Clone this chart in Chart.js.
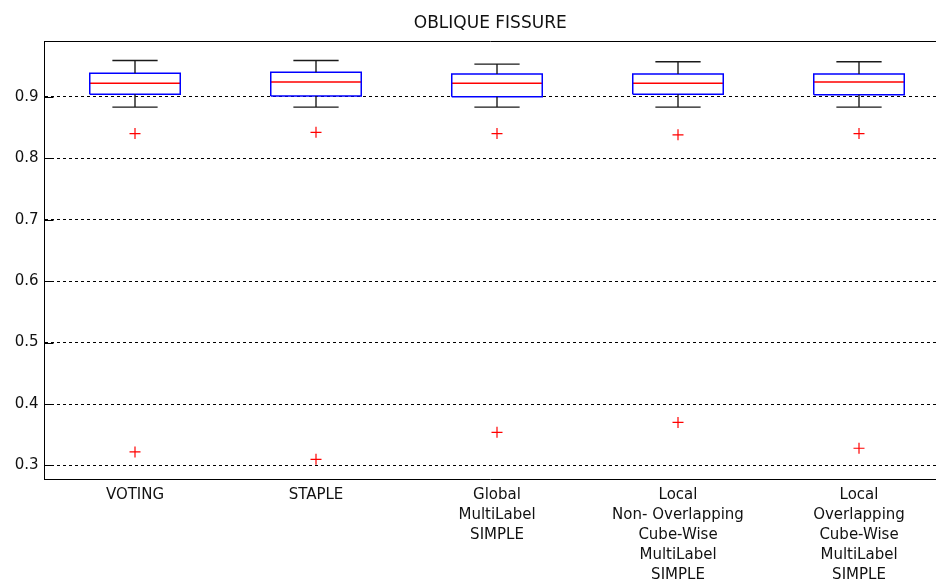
<!DOCTYPE html>
<html>
<head>
<meta charset="utf-8">
<script src="https://cdn.jsdelivr.net/npm/chart.js@4.4.1/dist/chart.umd.min.js"></script>
<style>
  html, body { margin: 0; padding: 0; background: #fff; }
  #wrap { width: 936px; height: 583px; }
</style>
</head>
<body>
<div id="wrap"><canvas id="c" width="936" height="583"></canvas></div>
<script>
// Segmentation methods compared (one box per method)
const categories = [
  ['VOTING'],
  ['STAPLE'],
  ['Global', 'MultiLabel', 'SIMPLE'],
  ['Local', 'Non- Overlapping', 'Cube-Wise', 'MultiLabel', 'SIMPLE'],
  ['Local', 'Overlapping', 'Cube-Wise', 'MultiLabel', 'SIMPLE']
];

// Box statistics per method
const whiskerLow  = [0.883, 0.883, 0.883, 0.883, 0.883];
const quartile1   = [0.904, 0.901, 0.900, 0.904, 0.903];
const medians     = [0.922, 0.924, 0.922, 0.922, 0.924];
const quartile3   = [0.938, 0.940, 0.937, 0.937, 0.937];
const whiskerHigh = [0.959, 0.959, 0.953, 0.957, 0.957];
const outliers    = [
  [0.840, 0.322],
  [0.842, 0.310],
  [0.840, 0.354],
  [0.838, 0.370],
  [0.840, 0.328]
];

const yTicks = [0.3, 0.4, 0.5, 0.6, 0.7, 0.8, 0.9];
const chartTitle = 'OBLIQUE FISSURE';

const BOX_HALF = 0.25;
const CAP_HALF = 0.125;
const GAP = { x: null, y: null };

const boxPts = [], medPts = [], whiskPts = [], outPts = [];
categories.forEach((_, i) => {
  const x = i + 1;
  boxPts.push(
    { x: x - BOX_HALF, y: quartile1[i] }, { x: x + BOX_HALF, y: quartile1[i] },
    { x: x + BOX_HALF, y: quartile3[i] }, { x: x - BOX_HALF, y: quartile3[i] },
    { x: x - BOX_HALF, y: quartile1[i] }, GAP
  );
  medPts.push({ x: x - BOX_HALF, y: medians[i] }, { x: x + BOX_HALF, y: medians[i] }, GAP);
  whiskPts.push(
    { x: x, y: quartile3[i] }, { x: x, y: whiskerHigh[i] }, GAP,
    { x: x - CAP_HALF, y: whiskerHigh[i] }, { x: x + CAP_HALF, y: whiskerHigh[i] }, GAP,
    { x: x, y: quartile1[i] }, { x: x, y: whiskerLow[i] }, GAP,
    { x: x - CAP_HALF, y: whiskerLow[i] }, { x: x + CAP_HALF, y: whiskerLow[i] }, GAP
  );
  outliers[i].forEach(v => outPts.push({ x: x, y: v }));
});

const lineSet = (data, color, width) => ({
  data, showLine: true, borderColor: color, borderWidth: width,
  pointRadius: 0, pointHoverRadius: 0, spanGaps: false, tension: 0
});

// Short solid tick marks drawn inward from the left axis
const innerTicks = {
  id: 'innerTicks',
  afterDraw(chart) {
    const { ctx, chartArea, scales } = chart;
    const y = scales.y;
    ctx.save();
    ctx.strokeStyle = '#000';
    ctx.lineWidth = 1;
    ctx.beginPath();
    y.ticks.forEach(t => {
      const py = Math.round(y.getPixelForValue(t.value)) + 0.5;
      ctx.moveTo(chartArea.left, py);
      ctx.lineTo(chartArea.left + 9, py);
    });
    ctx.stroke();
    ctx.restore();
  }
};

const font = { family: '"DejaVu Sans", sans-serif', size: 15 };
const categoryTicks = s => { s.ticks = categories.map((_, i) => ({ value: i + 1 })); };

new Chart(document.getElementById('c'), {
  type: 'scatter',
  data: {
    datasets: [
      lineSet(whiskPts, '#1a1a1a', 1.4),
      lineSet(boxPts, '#0000ff', 1.5),
      lineSet(medPts, '#ff0000', 1.4),
      {
        data: outPts, showLine: false, pointStyle: 'cross', pointRadius: 5.5,
        pointHoverRadius: 5.5, borderColor: '#ff0000', backgroundColor: '#ff0000', borderWidth: 1.2
      }
    ]
  },
  options: {
    responsive: false,
    animation: false,
    events: [],
    // the plot box runs on past the right edge of the canvas
    layout: { autoPadding: false, padding: 0 },
    plugins: {
      legend: { display: false },
      tooltip: { enabled: false },
      title: {
        display: true,
        text: chartTitle,
        fullSize: false,
        color: '#111',
        font: { family: '"DejaVu Sans", sans-serif', size: 17, weight: 'normal', lineHeight: 1.2 },
        padding: { top: 13, bottom: 8 }
      }
    },
    scales: {
      x: {
        type: 'linear',
        position: 'bottom',
        min: 0.5,
        max: 5.4254,
        afterBuildTicks: categoryTicks,
        afterFit: s => { s.height = 104; s.paddingLeft = 0; s.paddingRight = 0; },
        grid: { display: false, drawTicks: false },
        border: { display: true, color: '#000', width: 1 },
        ticks: {
          color: '#111',
          font: { ...font, lineHeight: '20px' },
          padding: 6,
          maxRotation: 0,
          autoSkip: false,
          callback: v => categories[Math.round(v) - 1] || ''
        }
      },
      xTop: {
        type: 'linear',
        position: 'top',
        min: 0.5,
        max: 5.4254,
        afterBuildTicks: categoryTicks,
        afterFit: s => { s.height = 0; s.paddingLeft = 0; s.paddingRight = 0; },
        grid: { display: false, drawTicks: false },
        border: { display: true, color: '#000', width: 1 },
        ticks: { display: false, callback: () => '' }
      },
      y: {
        type: 'linear',
        min: 0.278,
        max: 0.99,
        afterBuildTicks: s => { s.ticks = yTicks.map(v => ({ value: v })); },
        afterFit: s => { s.width = 44.5; s.paddingTop = 0; s.paddingBottom = 0; },
        grid: { display: true, drawTicks: false, color: '#000', lineWidth: 1 },
        border: { display: true, color: '#000', width: 1, dash: [3, 3] },
        ticks: {
          color: '#111',
          font,
          padding: 6,
          callback: v => v.toFixed(1)
        }
      }
    }
  },
  plugins: [innerTicks]
});
</script>
</body>
</html>
